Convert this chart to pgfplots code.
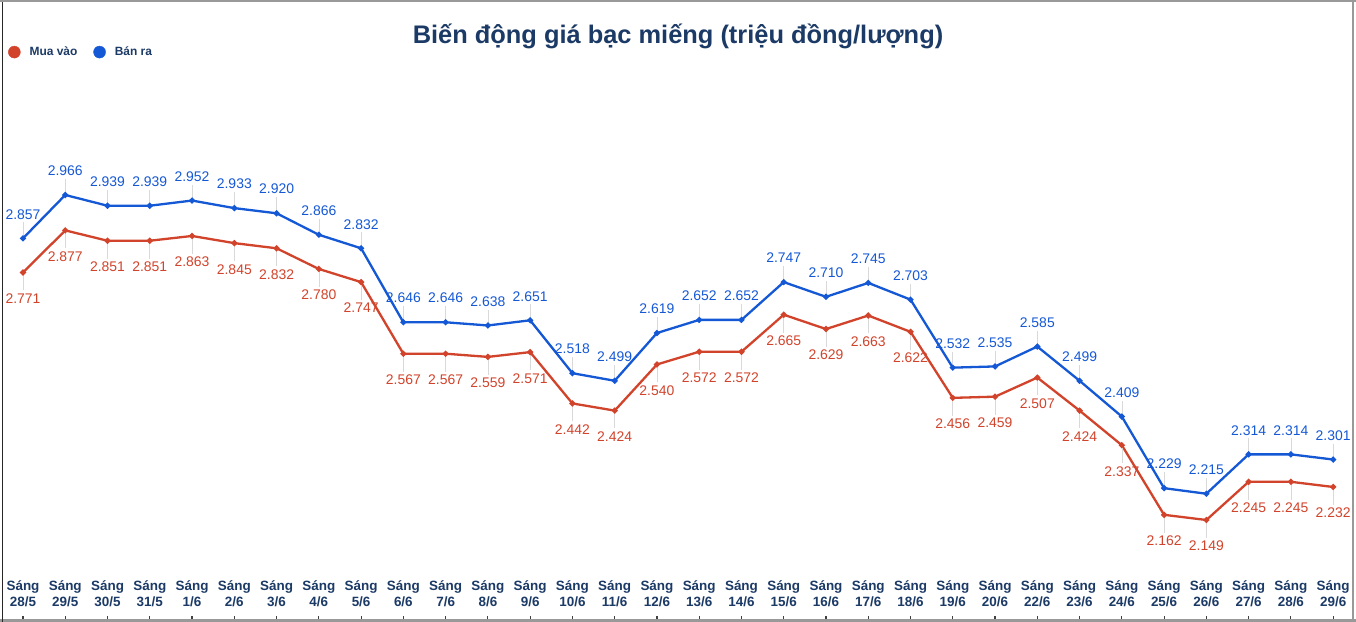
\documentclass[border=0pt]{standalone}
\usepackage{fontspec}
\setmainfont{Liberation Sans}
\usepackage{pgfplots}
\usepackage{pgfplotstable}
\pgfplotsset{compat=1.18}
\definecolor{mred}{HTML}{D2432B}
\definecolor{mblue}{HTML}{1558D6}
\definecolor{navy}{HTML}{1C3A66}
\pgfplotstableread{
x buy sell
0 2.771 2.857
1 2.877 2.966
2 2.851 2.939
3 2.851 2.939
4 2.863 2.952
5 2.845 2.933
6 2.832 2.920
7 2.780 2.866
8 2.747 2.832
9 2.567 2.646
10 2.567 2.646
11 2.559 2.638
12 2.571 2.651
13 2.442 2.518
14 2.424 2.499
15 2.540 2.619
16 2.572 2.652
17 2.572 2.652
18 2.665 2.747
19 2.629 2.710
20 2.663 2.745
21 2.622 2.703
22 2.456 2.532
23 2.459 2.535
24 2.507 2.585
25 2.424 2.499
26 2.337 2.409
27 2.162 2.229
28 2.149 2.215
29 2.245 2.314
30 2.245 2.314
31 2.232 2.301
}\data
\begin{document}
\begin{tikzpicture}
\useasboundingbox (0,0) rectangle (1356bp,622bp);
\fill[white] (0,0) rectangle (1356bp,622bp);
\fill[black!40] (0,620bp) rectangle (1356bp,622bp);
\fill[black!40] (0,0) rectangle (1356bp,3bp);
\fill[black!85] (1.5bp,0) rectangle (3bp,620bp);
\fill[black!40] (1351.5bp,0) rectangle (1354bp,620bp);
\node[font=\bfseries\fontsize{25.5}{25.5}\selectfont, text=navy] at (678bp,586bp) {Biến động giá bạc miếng (triệu đồng/lượng)};
\begin{axis}[
 at={(1.87bp,2.95bp)}, anchor=south west,
 scale only axis, width=1352.4bp, height=616.6bp,
 xmin=-0.5, xmax=31.5, ymin=1.9, ymax=3.45,
 clip=false,
 axis line style={draw=none},
 ytick=\empty,
 xtick={0,...,31},
 xticklabels={{Sáng\\28/5},{Sáng\\29/5},{Sáng\\30/5},{Sáng\\31/5},{Sáng\\1/6},{Sáng\\2/6},{Sáng\\3/6},{Sáng\\4/6},{Sáng\\5/6},{Sáng\\6/6},{Sáng\\7/6},{Sáng\\8/6},{Sáng\\9/6},{Sáng\\10/6},{Sáng\\11/6},{Sáng\\12/6},{Sáng\\13/6},{Sáng\\14/6},{Sáng\\15/6},{Sáng\\16/6},{Sáng\\17/6},{Sáng\\18/6},{Sáng\\19/6},{Sáng\\20/6},{Sáng\\22/6},{Sáng\\23/6},{Sáng\\24/6},{Sáng\\25/6},{Sáng\\26/6},{Sáng\\27/6},{Sáng\\28/6},{Sáng\\29/6}},
 xtick pos=left, tick align=inside, major tick length=3bp,
 xtick style={draw=black!75, line width=1.2bp},
 xticklabel style={anchor=base, yshift=12.5bp, align=center, font=\bfseries\fontsize{13.5}{16.5}\selectfont, text=navy},
 legend style={at={(0.0045,0.9195)}, anchor=west, draw=none, fill=none, font=\bfseries\fontsize{12}{12}\selectfont, text=navy, inner sep=0pt, /tikz/every even column/.append style={column sep=14bp}},
 legend columns=2,
 legend image code/.code={\fill[#1] (0bp,0bp) circle (6bp); \path (-6bp,0bp) (13bp,0bp);},
]
\addlegendimage{mred}
\addlegendentry{Mua vào}
\addlegendimage{mblue}
\addlegendentry{Bán ra}
\addplot[mblue, line width=2.3bp, mark=*, mark size=1.7bp, forget plot,
  nodes near coords={\pgfmathprintnumber[fixed, fixed zerofill, precision=3, assume math mode=true]{\pgfplotspointmeta}},
  every node near coord/.style={anchor=south, yshift=18bp, inner sep=0pt, font=\fontsize{14}{14}\selectfont, text=mblue},
  error bars/.cd, y dir=plus, y fixed=0.04, error mark=none, error bar style={black!15, line width=0.6bp, solid}]
  table[x=x, y=sell]{\data};
\addplot[mred, line width=2.3bp, mark=*, mark size=1.7bp, forget plot,
  nodes near coords={\pgfmathprintnumber[fixed, fixed zerofill, precision=3, assume math mode=true]{\pgfplotspointmeta}},
  every node near coord/.style={anchor=north, yshift=-20bp, inner sep=0pt, font=\fontsize{14}{14}\selectfont, text=mred},
  error bars/.cd, y dir=minus, y fixed=0.045, error mark=none, error bar style={black!15, line width=0.6bp, solid}]
  table[x=x, y=buy]{\data};
\end{axis}
\end{tikzpicture}
\end{document}
